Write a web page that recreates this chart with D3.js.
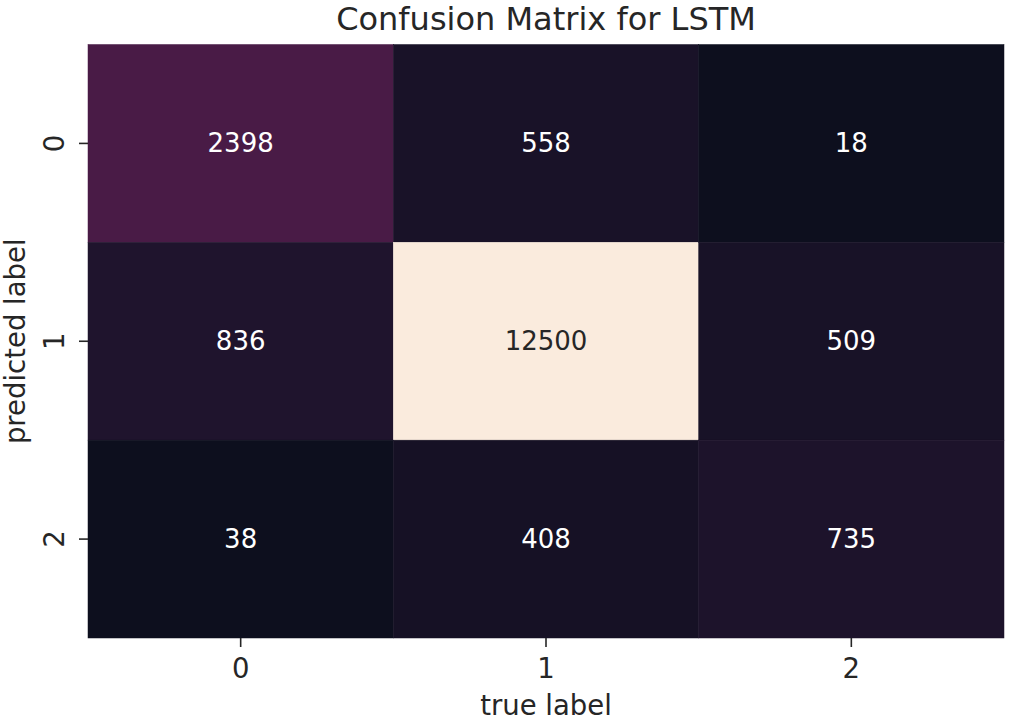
<!DOCTYPE html>
<html><head><meta charset="utf-8">
<script src="https://cdn.jsdelivr.net/npm/d3@7"></script>
<style>body{margin:0;background:#fff}svg{display:block}text{font-family:"DejaVu Sans",sans-serif}</style>
</head><body>
<script>
const trueLabels = ["0","1","2"];
const predLabels = ["0","1","2"];
const matrix = [
  [2398, 558, 18],
  [836, 12500, 509],
  [38, 408, 735]
];
const title = "Confusion Matrix for LSTM";
const xTitle = "true label";
const yTitle = "predicted label";
// seaborn "rocket" colormap stops (dark end as seen in the picture)
const rocketStops = ["#0d0f1e","#35193e","#701f57","#ad1759","#e13342","#f37651","#f6b48f","#faebdd"];
const rocketPos = [0, 1/7, 2/7, 3/7, 4/7, 5/7, 6/7, 1];

const W = 1010, H = 723;
const L = 88, R = 1004, T = 44.5, B = 638;
const svg = d3.select("body").append("svg").attr("width", W).attr("height", H);

const x = d3.scaleBand().domain(trueLabels).range([L, R]);
const y = d3.scaleBand().domain(predLabels).range([T, B]);
const flat = matrix.flat();
const vmin = d3.min(flat), vmax = d3.max(flat);
const norm = d3.scaleLinear().domain([vmin, vmax]).range([0, 1]);
const cmap = d3.scaleLinear().domain(rocketPos).range(rocketStops).interpolate(d3.interpolateRgb);
const color = v => cmap(norm(v));

const cells = [];
matrix.forEach((row, i) => row.forEach((v, j) => cells.push({r: predLabels[i], c: trueLabels[j], v})));

svg.append("g").selectAll("rect").data(cells).join("rect")
  .attr("x", d => x(d.c)).attr("y", d => y(d.r))
  .attr("width", x.bandwidth()).attr("height", y.bandwidth())
  .attr("fill", d => color(d.v)).attr("stroke", d => color(d.v)).attr("stroke-width", 0.5);

svg.append("g").selectAll("text").data(cells).join("text")
  .attr("x", d => x(d.c) + x.bandwidth()/2).attr("y", d => y(d.r) + y.bandwidth()/2)
  .attr("text-anchor", "middle").attr("dominant-baseline", "central")
  .attr("font-size", 26)
  .attr("fill", d => d3.hsl(color(d.v)).l > 0.5 ? "#262626" : "#ffffff")
  .text(d => d.v);

const xa = svg.append("g").attr("transform", `translate(0,${B})`)
  .call(d3.axisBottom(x).tickSize(9).tickPadding(11));
xa.select(".domain").remove();
xa.selectAll("line").attr("stroke", "#262626").attr("stroke-width", 1.6);
xa.selectAll("text").attr("font-size", 27.5).attr("fill", "#262626").attr("font-family", "DejaVu Sans");

const ya = svg.append("g").attr("transform", `translate(${L},0)`)
  .call(d3.axisLeft(y).tickSize(9).tickPadding(6));
ya.select(".domain").remove();
ya.selectAll("line").attr("stroke", "#262626").attr("stroke-width", 1.6);
ya.selectAll("text").attr("font-size", 27.5).attr("fill", "#262626").attr("font-family", "DejaVu Sans")
  .attr("text-anchor", "middle").attr("dy", null).attr("dominant-baseline", "central")
  .attr("transform", `rotate(-90,-34.5,0)`)
  .attr("x", -34.5);

svg.append("text").attr("x", (L+R)/2).attr("y", 29.8).attr("text-anchor", "middle")
  .attr("font-size", 32).attr("fill", "#262626").text(title);
svg.append("text").attr("x", (L+R)/2).attr("y", 715).attr("text-anchor", "middle")
  .attr("font-size", 27.5).attr("fill", "#262626").text(xTitle);
svg.append("text").attr("transform", `translate(25,${(T+B)/2}) rotate(-90)`).attr("text-anchor", "middle")
  .attr("font-size", 27.5).attr("fill", "#262626").text(yTitle);
</script>
</body></html>
